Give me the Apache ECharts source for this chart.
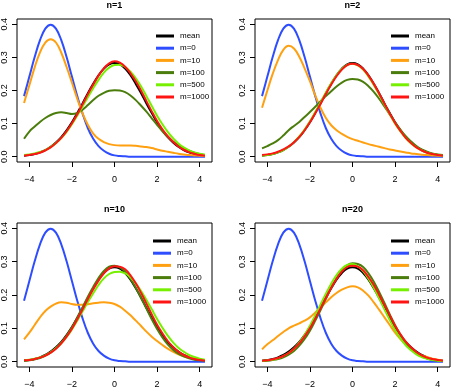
<!DOCTYPE html>
<html>
<head>
<meta charset="utf-8">
<script src="https://cdn.jsdelivr.net/npm/echarts@6/dist/echarts.min.js"></script>
<style>
  html, body { margin: 0; padding: 0; background: #fff; }
  #chart { width: 451px; height: 389px; }
</style>
</head>
<body>
<div id="chart"></div>
<script>
const xValues = [-4.25, -4, -3.75, -3.5, -3.25, -3, -2.75, -2.5, -2.25, -2, -1.75, -1.5, -1.25, -1, -0.75, -0.5, -0.25, 0,
  0.25, 0.5, 0.75, 1, 1.25, 1.5, 1.75, 2, 2.25, 2.5, 2.75, 3, 3.25, 3.5, 3.75, 4, 4.25];
const xTicks = [-4, -2, 0, 2, 4];
const yTicks = [0, 0.1, 0.2, 0.3, 0.4];
const panelTitles = ["n=1", "n=2", "n=10", "n=20"];
const seriesNames = ["mean", "m=0", "m=10", "m=100", "m=500", "m=1000"];

// same in every panel
const meanY = [0.003, 0.005, 0.008, 0.013, 0.020, 0.030, 0.043, 0.059, 0.080, 0.104, 0.132, 0.161, 0.192, 0.220, 0.246, 0.266, 0.279, 0.283,
  0.279, 0.266, 0.246, 0.220, 0.192, 0.161, 0.132, 0.104, 0.080, 0.059, 0.043, 0.030, 0.020, 0.013, 0.008, 0.005, 0.003];
const m0Y = [0.183, 0.242, 0.301, 0.352, 0.387, 0.399, 0.387, 0.352, 0.301, 0.242, 0.183, 0.130, 0.086, 0.054, 0.032, 0.018, 0.009, 0.004,
  0.002, 0.001, 0, 0, 0, 0, 0, 0, 0, 0, 0, 0, 0, 0, 0, 0, 0];

// n=1
const n1_m10 = [0.162, 0.216, 0.270, 0.315, 0.345, 0.355, 0.345, 0.314, 0.271, 0.224, 0.175, 0.131, 0.096, 0.070, 0.054, 0.044, 0.038, 0.035,
  0.034, 0.034, 0.034, 0.033, 0.031, 0.029, 0.026, 0.022, 0.018, 0.015, 0.012, 0.009, 0.007, 0.005, 0.004, 0.003, 0.002];
const n1_m100 = [0.054, 0.076, 0.091, 0.105, 0.117, 0.126, 0.132, 0.134, 0.132, 0.129, 0.132, 0.142, 0.156, 0.171, 0.184, 0.193, 0.199, 0.201,
  0.200, 0.195, 0.185, 0.171, 0.154, 0.136, 0.116, 0.096, 0.077, 0.060, 0.046, 0.035, 0.026, 0.018, 0.012, 0.008, 0.005];
const n1_m500 = [0.005, 0.007, 0.010, 0.014, 0.020, 0.029, 0.041, 0.056, 0.075, 0.098, 0.124, 0.152, 0.180, 0.207, 0.232, 0.254, 0.269, 0.277,
  0.278, 0.271, 0.257, 0.237, 0.212, 0.183, 0.153, 0.124, 0.098, 0.075, 0.056, 0.040, 0.028, 0.019, 0.013, 0.009, 0.006];
const n1_m1000 = [0.003, 0.005, 0.008, 0.012, 0.019, 0.028, 0.041, 0.057, 0.077, 0.101, 0.128, 0.158, 0.189, 0.218, 0.245, 0.267, 0.282, 0.288,
  0.284, 0.272, 0.252, 0.228, 0.199, 0.168, 0.137, 0.108, 0.083, 0.062, 0.045, 0.031, 0.021, 0.014, 0.009, 0.005, 0.003];

// n=2
const n2_m10 = [0.148, 0.200, 0.250, 0.292, 0.323, 0.335, 0.327, 0.302, 0.267, 0.228, 0.185, 0.147, 0.117, 0.095, 0.080, 0.069, 0.060, 0.053,
  0.048, 0.043, 0.038, 0.034, 0.030, 0.026, 0.022, 0.019, 0.016, 0.013, 0.010, 0.008, 0.006, 0.005, 0.004, 0.003, 0.002];
const n2_m100 = [0.025, 0.032, 0.040, 0.050, 0.064, 0.080, 0.093, 0.105, 0.120, 0.135, 0.151, 0.168, 0.183, 0.198, 0.212, 0.224, 0.232, 0.235,
  0.233, 0.226, 0.213, 0.196, 0.175, 0.152, 0.128, 0.104, 0.082, 0.062, 0.046, 0.032, 0.022, 0.015, 0.010, 0.007, 0.005];
const n2_m500 = [0.003, 0.005, 0.008, 0.013, 0.020, 0.030, 0.044, 0.061, 0.082, 0.107, 0.135, 0.164, 0.194, 0.222, 0.246, 0.265, 0.277, 0.281,
  0.276, 0.263, 0.242, 0.217, 0.188, 0.158, 0.128, 0.100, 0.077, 0.056, 0.040, 0.028, 0.019, 0.012, 0.008, 0.005, 0.003];
const n2_m1000 = [0.005, 0.007, 0.010, 0.015, 0.022, 0.031, 0.044, 0.060, 0.080, 0.104, 0.131, 0.160, 0.190, 0.218, 0.243, 0.263, 0.277, 0.281,
  0.277, 0.265, 0.245, 0.220, 0.191, 0.160, 0.130, 0.102, 0.078, 0.057, 0.041, 0.028, 0.019, 0.012, 0.008, 0.005, 0.003];

// n=10
const n10_m10 = [0.067, 0.087, 0.110, 0.133, 0.152, 0.165, 0.174, 0.178, 0.177, 0.173, 0.171, 0.171, 0.172, 0.175, 0.177, 0.178, 0.177, 0.173,
  0.165, 0.153, 0.139, 0.123, 0.107, 0.090, 0.075, 0.062, 0.050, 0.039, 0.030, 0.022, 0.016, 0.012, 0.008, 0.006, 0.004];
const n10_m100 = [0.003, 0.004, 0.007, 0.011, 0.018, 0.027, 0.040, 0.057, 0.078, 0.103, 0.132, 0.163, 0.195, 0.224, 0.251, 0.272, 0.285, 0.288,
  0.283, 0.270, 0.248, 0.222, 0.191, 0.159, 0.127, 0.098, 0.073, 0.052, 0.036, 0.024, 0.016, 0.010, 0.006, 0.004, 0.003];
const n10_m500 = [0.004, 0.006, 0.009, 0.013, 0.019, 0.028, 0.040, 0.055, 0.074, 0.097, 0.123, 0.151, 0.179, 0.205, 0.230, 0.250, 0.263, 0.269,
  0.270, 0.265, 0.253, 0.235, 0.212, 0.185, 0.157, 0.128, 0.102, 0.078, 0.058, 0.042, 0.030, 0.020, 0.014, 0.009, 0.006];
const n10_m1000 = [0.004, 0.005, 0.008, 0.012, 0.018, 0.027, 0.039, 0.055, 0.075, 0.099, 0.127, 0.157, 0.188, 0.217, 0.243, 0.265, 0.280, 0.286,
  0.285, 0.277, 0.259, 0.235, 0.206, 0.174, 0.142, 0.111, 0.085, 0.062, 0.044, 0.030, 0.020, 0.013, 0.008, 0.005, 0.003];

// n=20
const n20_m10 = [0.037, 0.052, 0.064, 0.077, 0.089, 0.100, 0.108, 0.115, 0.123, 0.133, 0.147, 0.163, 0.178, 0.193, 0.206, 0.216, 0.223, 0.226,
  0.223, 0.213, 0.198, 0.178, 0.156, 0.133, 0.110, 0.087, 0.068, 0.052, 0.038, 0.027, 0.019, 0.014, 0.009, 0.006, 0.003];
const n20_m100 = [0.002, 0.003, 0.005, 0.008, 0.013, 0.021, 0.032, 0.048, 0.068, 0.093, 0.123, 0.155, 0.189, 0.221, 0.250, 0.273, 0.289, 0.295,
  0.293, 0.284, 0.265, 0.240, 0.209, 0.176, 0.142, 0.109, 0.081, 0.057, 0.039, 0.025, 0.016, 0.009, 0.005, 0.003, 0.002];
const n20_m500 = [0.002, 0.004, 0.006, 0.010, 0.017, 0.026, 0.039, 0.057, 0.080, 0.108, 0.139, 0.172, 0.204, 0.234, 0.260, 0.279, 0.290, 0.293,
  0.286, 0.272, 0.249, 0.222, 0.190, 0.157, 0.125, 0.095, 0.070, 0.049, 0.034, 0.022, 0.014, 0.009, 0.005, 0.003, 0.002];
const n20_m1000 = [0.003, 0.004, 0.007, 0.011, 0.017, 0.026, 0.039, 0.055, 0.076, 0.100, 0.129, 0.160, 0.191, 0.222, 0.248, 0.270, 0.284, 0.288,
  0.285, 0.274, 0.254, 0.230, 0.201, 0.170, 0.139, 0.108, 0.082, 0.060, 0.043, 0.029, 0.019, 0.012, 0.008, 0.005, 0.003];

const panelData = [
  [meanY, m0Y, n1_m10, n1_m100, n1_m500, n1_m1000],
  [meanY, m0Y, n2_m10, n2_m100, n2_m500, n2_m1000],
  [meanY, m0Y, n10_m10, n10_m100, n10_m500, n10_m1000],
  [meanY, m0Y, n20_m10, n20_m100, n20_m500, n20_m1000]
];

const colors = ["#000000", "#2d4dff", "#ffa010", "#4b7d0c", "#76f000", "#ff1414"];
const font = "Liberation Sans, Arial, sans-serif";

const boxes = [
  { left: 17, top: 19, width: 195, height: 143 },
  { left: 255, top: 19, width: 195, height: 143 },
  { left: 17, top: 223, width: 195, height: 144 },
  { left: 255, top: 223, width: 195, height: 144 }
];
const legendPos = [
  { left: 156, top: 30 },
  { left: 391, top: 30 },
  { left: 153, top: 235 },
  { left: 391, top: 235 }
];

const chart = echarts.init(document.getElementById("chart"));

const option = {
  animation: false,
  backgroundColor: "#fff",
  title: boxes.map((b, i) => ({
    text: panelTitles[i],
    left: b.left + b.width / 2,
    top: b.top - 18,
    textAlign: "center",
    padding: 0,
    textStyle: { fontFamily: font, fontSize: 9, fontWeight: "bold", color: "#000" }
  })),
  legend: legendPos.map((p) => ({
    data: seriesNames,
    orient: "vertical",
    left: p.left,
    top: p.top,
    padding: 0,
    itemGap: 0.2,
    itemWidth: 18,
    itemHeight: 3,
    icon: "rect",
    selectedMode: false,
    textStyle: { fontFamily: font, fontSize: 8, color: "#000", lineHeight: 12, padding: [0, 0, 0, 1] }
  })),
  grid: boxes.map((b) => ({
    left: b.left,
    top: b.top,
    width: b.width,
    height: b.height,
    show: true,
    borderColor: "#000",
    borderWidth: 1,
    containLabel: false
  })),
  xAxis: boxes.map((b, i) => ({
    type: "value",
    gridIndex: i,
    min: -4.58,
    max: 4.58,
    axisLine: { show: false, onZero: false },
    splitLine: { show: false },
    axisTick: { show: true, length: 5, lineStyle: { color: "#000" }, customValues: xTicks },
    axisLabel: {
      customValues: xTicks,
      margin: 13,
      fontFamily: font,
      fontSize: 9,
      color: "#000",
      formatter: (v) => String(v).replace("-", "\u2212")
    }
  })),
  yAxis: boxes.map((b, i) => ({
    type: "value",
    gridIndex: i,
    min: -0.016,
    max: 0.416,
    axisLine: { show: false, onZero: false },
    splitLine: { show: false },
    axisTick: { show: true, length: 5, lineStyle: { color: "#000" }, customValues: yTicks },
    axisLabel: {
      customValues: yTicks,
      rotate: 90,
      margin: 8,
      fontFamily: font,
      fontSize: 9,
      color: "#000",
      formatter: (v) => v.toFixed(1)
    }
  })),
  series: []
};

panelData.forEach((curves, p) => {
  curves.forEach((ys, k) => {
    option.series.push({
      name: seriesNames[k],
      type: "line",
      xAxisIndex: p,
      yAxisIndex: p,
      smooth: 0.4,
      showSymbol: false,
      symbol: "none",
      color: colors[k],
      lineStyle: { width: 2, color: colors[k] },
      data: xValues.map((x, j) => [x, ys[j]])
    });
  });
});

chart.setOption(option);
</script>
</body>
</html>
